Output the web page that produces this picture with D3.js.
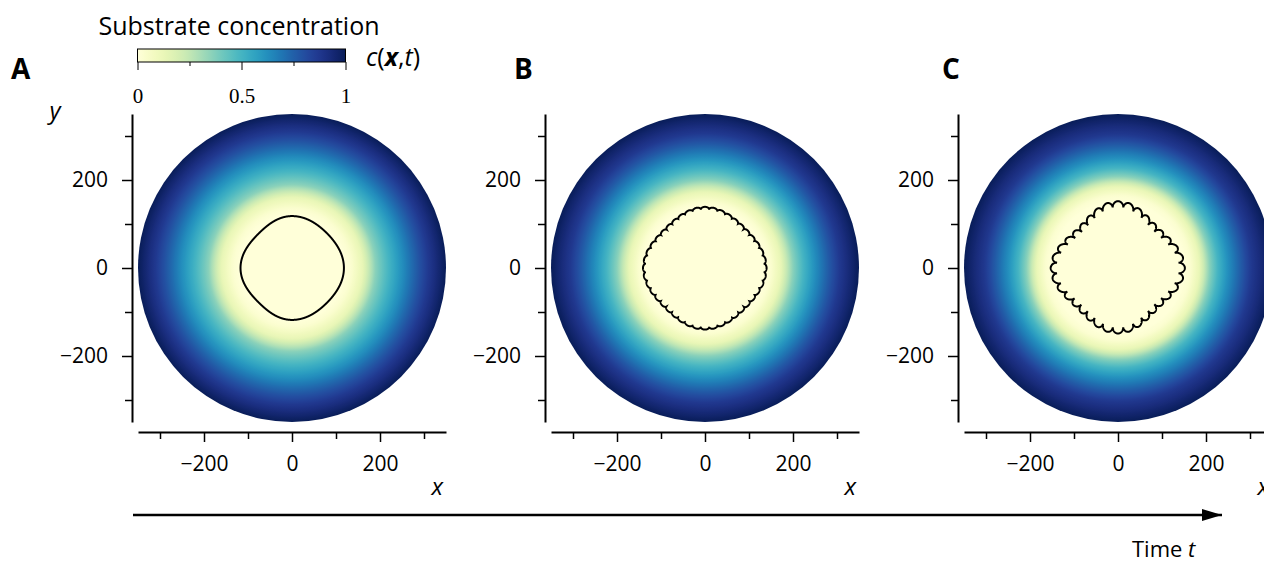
<!DOCTYPE html>
<html>
<head>
<meta charset="utf-8">
<script src="https://cdn.jsdelivr.net/npm/d3@7"></script>
<style>
  body { margin: 0; background: #fff; }
  text { font-family: "Open Sans", sans-serif; fill: #000; }
</style>
</head>
<body>
<svg id="fig" width="1264" height="563"></svg>
<script>
// panels, left to right in time
var panelNames = ['A', 'B', 'C'];

var profileRadius = [
  [0, 120, 135, 160, 190, 220, 250, 280, 310, 350],
  [0, 138, 150, 172, 200, 224, 250, 278, 306, 350],
  [0, 150, 165, 185, 208, 227, 250, 277, 303, 350]
];
var profileConc = [0, 0, 0.03, 0.13, 0.36, 0.5, 0.625, 0.75, 0.87, 1];

// colony edge radius (outer envelope) at 0, 45, ..., 315 degrees
var edgeRadius = [
  [118, 112, 118, 109, 117, 109, 118, 112],
  [140, 129, 139, 128, 141, 129, 140, 130],
  [152, 130, 152, 129, 153, 131, 149, 130]
];
// small fingering bumps on the edge
var lobeCount = [0, 44, 36];
var lobeDepth = [0, 5, 13];

var axisTicks = [-200, 0, 200];
var minorTicks = [-300, -100, 100, 300];
var cbarTicks = [0, 0.5, 1];
var cbarMinor = [0.25, 0.75];

var svg = d3.select('#fig');
var defs = svg.append('defs');
var color = d3.scaleSequential(d3.interpolateYlGnBu).domain([0, 1]);

var centers = [292, 705, 1118];
var cy = 268;
var half = 154;

function edgeAt (i, th) {
  var deg = th * 180 / Math.PI;
  var k = Math.floor(deg / 45) % 8;
  var f = (deg - k * 45) / 45;
  var a = edgeRadius[i][k], b = edgeRadius[i][(k + 1) % 8];
  var r = a + (b - a) * d3.easeSinInOut(f);
  if (lobeCount[i]) {
    r -= lobeDepth[i] * (1 - Math.pow(Math.abs(Math.cos(lobeCount[i] * th / 2)), 0.5));
  }
  return r;
}

panelNames.forEach(function (name, i) {
  var x = d3.scaleLinear().domain([-350, 350]).range([centers[i] - half, centers[i] + half]);
  var y = d3.scaleLinear().domain([-350, 350]).range([cy + half, cy - half]);
  var g = svg.append('g');
  var R = x(350) - x(0);

  var conc = d3.scaleLinear().domain(profileRadius[i]).range(profileConc).clamp(true);
  var grad = defs.append('radialGradient')
    .attr('id', 'disk' + i)
    .attr('gradientUnits', 'userSpaceOnUse')
    .attr('cx', x(0)).attr('cy', y(0)).attr('r', R);
  d3.range(0, 351, 2).forEach(function (r) {
    grad.append('stop').attr('offset', r / 350).attr('stop-color', color(conc(r)));
  });
  g.append('circle')
    .attr('cx', x(0)).attr('cy', y(0)).attr('r', R)
    .attr('fill', 'url(#disk' + i + ')');

  var angles = d3.range(0, 2 * Math.PI, Math.PI / 900);
  var line = d3.line()
    .x(function (th) { return x(edgeAt(i, th) * Math.cos(th)); })
    .y(function (th) { return y(edgeAt(i, th) * Math.sin(th)); })
    .curve(d3.curveLinearClosed);
  g.append('path')
    .attr('d', line(angles))
    .attr('fill', 'none')
    .attr('stroke', '#000')
    .attr('stroke-width', 2);

  // axes, offset from the data like matplotlib spines
  var xg = g.append('g').attr('transform', 'translate(0,' + (cy + half + 10) + ')');
  xg.call(d3.axisBottom(x).tickValues(axisTicks).tickSize(10).tickSizeOuter(0).tickPadding(14));
  xg.append('g').call(d3.axisBottom(x).tickValues(minorTicks).tickSize(7).tickFormat(''))
    .select('.domain').remove();
  var yg = g.append('g').attr('transform', 'translate(' + (centers[i] - half - 6) + ',0)');
  yg.call(d3.axisLeft(y).tickValues(axisTicks).tickSize(10).tickSizeOuter(0).tickPadding(14));
  yg.append('g').call(d3.axisLeft(y).tickValues(minorTicks).tickSize(7).tickFormat(''))
    .select('.domain').remove();
  g.selectAll('.domain').attr('stroke-width', 2);
  g.selectAll('.tick line').attr('stroke-width', 1.5);
  g.selectAll('.tick text')
    .style('font-family', '"Open Sans", sans-serif')
    .style('font-size', '21px');

  g.append('text')
    .attr('x', x(330)).attr('y', 495)
    .attr('text-anchor', 'middle')
    .style('font-size', '24px').style('font-style', 'italic')
    .text('x');
});

svg.append('text').attr('x', 55).attr('y', 119)
  .attr('text-anchor', 'middle')
  .style('font-size', '24px').style('font-style', 'italic')
  .text('y');

var labelX = [11, 514, 942];
panelNames.forEach(function (name, i) {
  svg.append('text').attr('x', labelX[i]).attr('y', 79)
    .style('font-size', '28px').style('font-weight', 'bold')
    .text(name);
});

// colour bar
var cb = d3.scaleLinear().domain([0, 1]).range([137.5, 345.5]);
var lin = defs.append('linearGradient').attr('id', 'cbar');
d3.range(0, 1.001, 0.02).forEach(function (v) {
  lin.append('stop').attr('offset', v).attr('stop-color', color(v));
});
svg.append('rect')
  .attr('x', cb(0)).attr('y', 49).attr('width', cb(1) - cb(0)).attr('height', 13)
  .attr('fill', 'url(#cbar)')
  .attr('stroke', '#000').attr('stroke-width', 1);
var cg = svg.append('g').attr('transform', 'translate(0,62)');
cg.call(d3.axisBottom(cb).tickValues(cbarTicks).tickSize(8).tickSizeOuter(0).tickPadding(18)
  .tickFormat(d3.format('')));
cg.append('g').call(d3.axisBottom(cb).tickValues(cbarMinor).tickSize(4).tickFormat(''))
  .select('.domain').remove();
cg.selectAll('.domain').remove();
cg.selectAll('.tick text')
  .style('font-family', '"Liberation Serif", "DejaVu Serif", serif')
  .style('font-size', '21px');

svg.append('text').attr('x', 239).attr('y', 35)
  .attr('text-anchor', 'middle')
  .style('font-size', '25px')
  .text('Substrate concentration');

var cl = svg.append('text').attr('x', 366).attr('y', 66)
  .style('font-size', '25px');
cl.append('tspan').style('font-style', 'italic').text('c');
cl.append('tspan').text('(');
cl.append('tspan').style('font-style', 'italic').style('font-weight', 'bold').text('x');
cl.append('tspan').text(',');
cl.append('tspan').style('font-style', 'italic').text('t');
cl.append('tspan').text(')');

// time arrow
defs.append('marker')
  .attr('id', 'head')
  .attr('viewBox', '0 0 20 12')
  .attr('refX', 20).attr('refY', 6)
  .attr('markerWidth', 20).attr('markerHeight', 12)
  .attr('markerUnits', 'userSpaceOnUse')
  .attr('orient', 'auto')
  .append('path').attr('d', 'M0,0L20,6L0,12Z').attr('fill', '#000');
svg.append('line')
  .attr('x1', 133).attr('x2', 1222).attr('y1', 515).attr('y2', 515)
  .attr('stroke', '#000').attr('stroke-width', 2.5)
  .attr('marker-end', 'url(#head)');

var tt = svg.append('text').attr('x', 1132).attr('y', 557).style('font-size', '22px');
tt.append('tspan').text('Time ');
tt.append('tspan').style('font-style', 'italic').text('t');
</script>
</body>
</html>
